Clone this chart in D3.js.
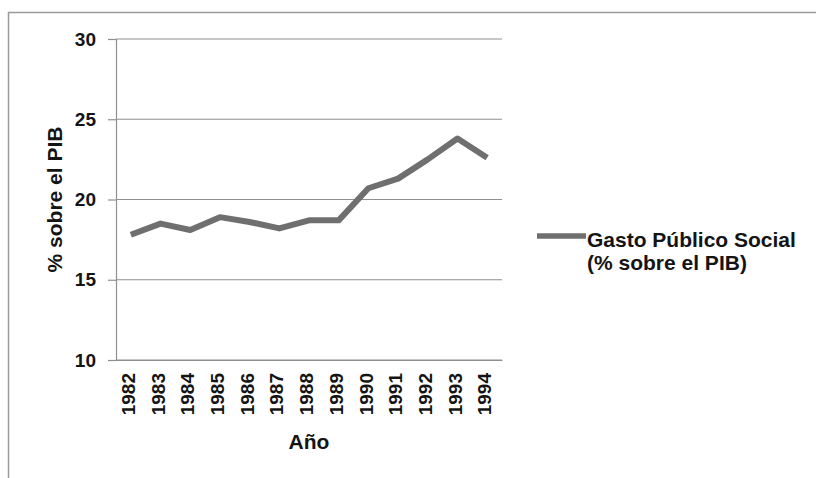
<!DOCTYPE html>
<html>
<head>
<meta charset="utf-8">
<script src="https://cdn.jsdelivr.net/npm/d3@7"></script>
<style>
  html, body { margin: 0; padding: 0; background: #fff; }
  svg { display: block; font-family: "Liberation Sans", Arial, sans-serif; font-weight: bold; }
</style>
</head>
<body>
<svg id="chart" width="816" height="478"></svg>
<script>
// Social public spending as % of GDP, 1982–1994
const years = ["1982","1983","1984","1985","1986","1987","1988","1989","1990","1991","1992","1993","1994"];
const gastoSocial = [17.8, 18.5, 18.1, 18.9, 18.6, 18.2, 18.7, 18.7, 20.7, 21.3, 22.5, 23.8, 22.6];
const yTicks = [10, 15, 20, 25, 30];
const seriesName = ["Gasto Público Social", "(% sobre el PIB)"];

const svg = d3.select("#chart");
const margin = { left: 116, top: 39, right: 502, bottom: 360 };
const ink = "#141414";

// Outer frame
svg.append("path")
  .attr("d", "M8.5,478 L8.5,12.5 L816,12.5")
  .attr("fill", "none").attr("stroke", "#9a9a9a").attr("stroke-width", 1.5);

const x = d3.scaleBand().domain(years).range([margin.left, margin.right]);
const y = d3.scaleLinear().domain([10, 30]).range([margin.bottom, margin.top]);

// Horizontal gridlines
svg.append("g").selectAll("line").data(yTicks).join("line")
  .attr("x1", margin.left).attr("x2", margin.right)
  .attr("y1", d => y(d)).attr("y2", d => y(d))
  .attr("stroke", "#8f8f8f").attr("stroke-width", 1.2);

// Y axis
const yAxis = svg.append("g")
  .attr("transform", `translate(${margin.left},0)`)
  .call(d3.axisLeft(y).tickValues(yTicks).tickSize(8).tickPadding(12));
yAxis.select(".domain").attr("stroke", "#8f8f8f").attr("stroke-width", 1.2);
yAxis.selectAll(".tick line").attr("stroke", "#8f8f8f").attr("stroke-width", 1.2);
yAxis.selectAll(".tick text")
  .attr("fill", ink).style("font-size", "19px").style("font-weight", "bold")
  .attr("font-family", null);

// X axis
const xAxis = svg.append("g")
  .attr("transform", `translate(0,${margin.bottom})`)
  .call(d3.axisBottom(x).tickSize(0).tickSizeOuter(0));
xAxis.select(".domain").attr("stroke", "#8f8f8f").attr("stroke-width", 1.2);
xAxis.selectAll(".tick text")
  .attr("fill", ink).style("font-size", "19px").style("font-weight", "bold")
  .attr("font-family", null)
  .attr("text-anchor", "end")
  .attr("transform", "rotate(-90)")
  .attr("x", -13).attr("y", 0).attr("dy", "0.22em");

// Axis titles
svg.append("text")
  .attr("transform", `translate(62,${(margin.top + margin.bottom) / 2}) rotate(-90)`)
  .attr("text-anchor", "middle")
  .attr("fill", ink).style("font-size", "21px")
  .text("% sobre el PIB");

svg.append("text")
  .attr("x", (margin.left + margin.right) / 2).attr("y", 449)
  .attr("text-anchor", "middle")
  .attr("fill", ink).style("font-size", "21px")
  .text("Año");

// Series line
const line = d3.line()
  .x((d, i) => x(years[i]) + x.bandwidth() / 2)
  .y(d => y(d));
svg.append("path")
  .datum(gastoSocial)
  .attr("d", line)
  .attr("fill", "none").attr("stroke", "#6f6f6f")
  .attr("stroke-width", 6).attr("stroke-linejoin", "round");

// Legend
svg.append("line")
  .attr("x1", 537).attr("x2", 586).attr("y1", 236).attr("y2", 236)
  .attr("stroke", "#6f6f6f").attr("stroke-width", 5.5);
svg.append("text")
  .attr("x", 587).attr("y", 247)
  .attr("fill", ink).style("font-size", "21px")
  .selectAll("tspan").data(seriesName).join("tspan")
  .attr("x", 587).attr("dy", (d, i) => i === 0 ? 0 : 23)
  .text(d => d);
</script>
</body>
</html>
